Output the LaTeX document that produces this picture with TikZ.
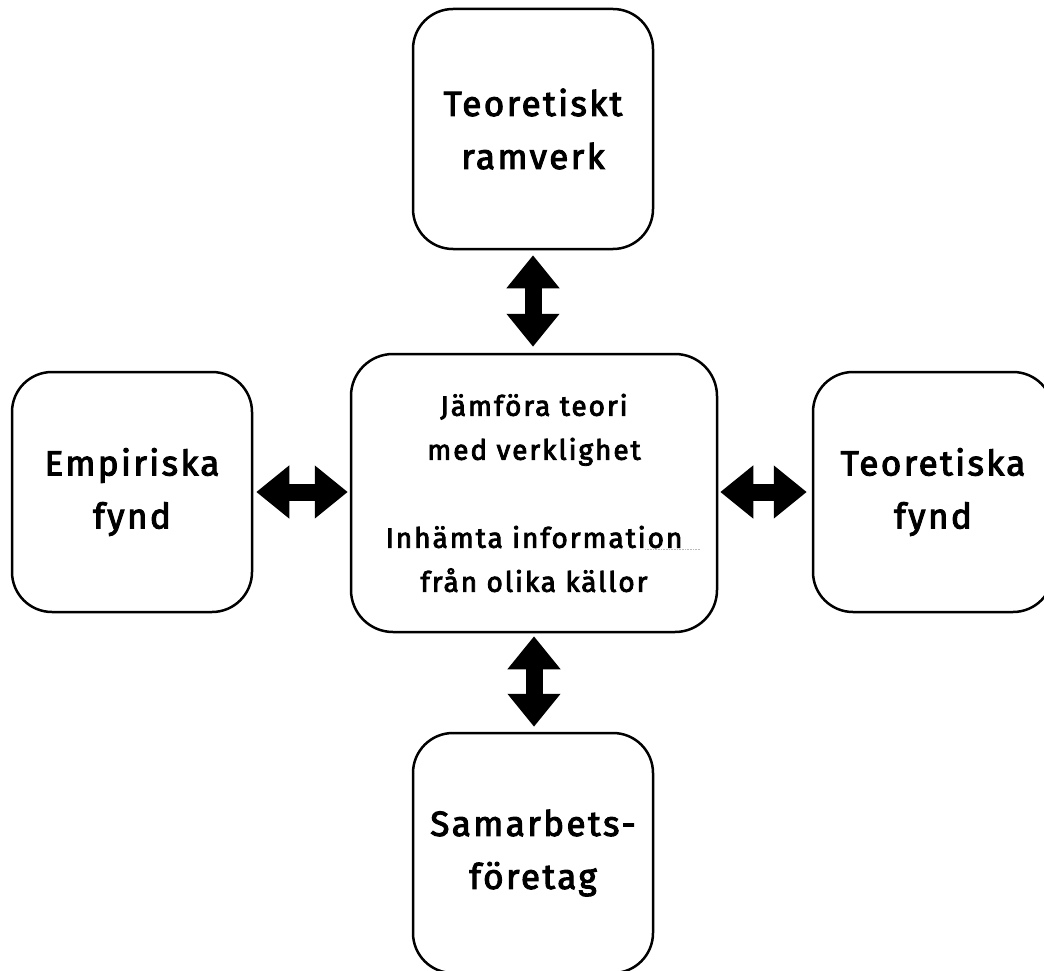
\documentclass[tikz,border=0pt]{standalone}
\usepackage{fontspec}
\setmainfont{Fira Sans}[FakeBold=3, LetterSpace=7]
\usetikzlibrary{arrows.meta}
\begin{document}
\begin{tikzpicture}[x=1pt,y=-1pt,
  box/.style={draw, line width=2.5pt, rounded corners=40pt, align=center,
    minimum width=240pt, minimum height=240pt, inner sep=0pt,
    font=\fontsize{35}{53}\selectfont},
  hub/.style={box, minimum width=366pt, minimum height=278pt, rounded corners=42pt,
    font=\fontsize{28}{44}\selectfont},
  link/.style={line width=17pt,
    {Triangle[length=33pt,width=51pt]}-{Triangle[length=33pt,width=51pt]}}]
  \useasboundingbox (0,0) rectangle (1044,971);

  % boxes
  \node[hub] (mid) at (534,493) {Jämföra teori\\med verklighet\\[44pt]Inhämta information\\från olika källor};
  \node[box] (top) at (533,129) {Teoretiskt\\ramverk};
  \node[box] (left) at (132,492) {Empiriska\\fynd};
  \node[box] (right) at (933,492) {Teoretiska\\fynd};
  \node[box] (bottom) at (533,853) {Samarbets-\\företag};

  % faint underline mark beside the last word
  \draw[gray!55, line width=0.6pt, densely dotted] (645,549) -- (700,549);

  % double-headed connectors
  \draw[link, shorten <=5pt, shorten >=6pt] (top.south) -- (top.south |- mid.north);
  \draw[link, shorten <=3pt, shorten >=5pt] (mid.south) -- (bottom.north -| mid.south);
  \draw[link, shorten <=3pt, shorten >=2pt] (left.east) -- (left.east -| mid.west);
  \draw[link, shorten <=2pt, shorten >=5pt] (mid.east |- right.west) -- (right.west);
\end{tikzpicture}
\end{document}
